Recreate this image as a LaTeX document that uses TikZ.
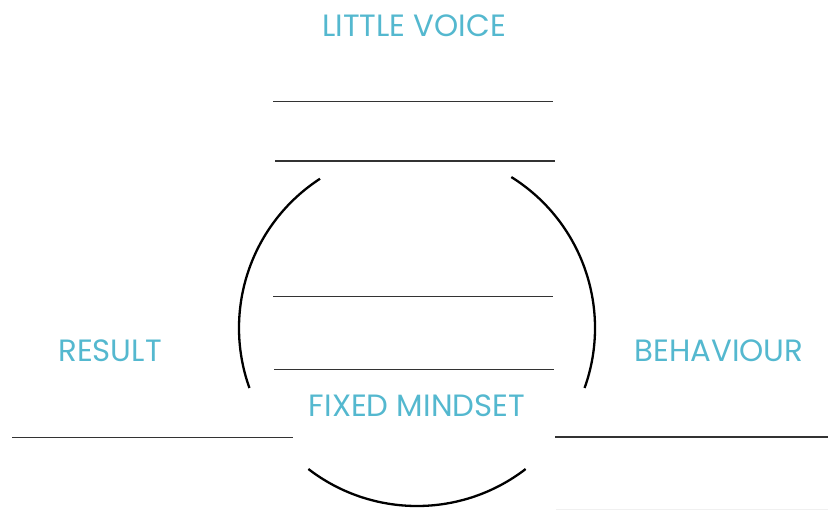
\documentclass[tikz,border=0pt]{standalone}
\usepackage{fontspec}
\setmainfont{Poppins}
\usepackage{tikz}
\usepackage{xcolor}
\definecolor{labelblue}{RGB}{84,184,207}
\tikzset{
  labeltext/.style={text=labelblue, font=\fontsize{15.4}{17}\selectfont, inner sep=0pt},
  blank/.style={draw=black!80, line width=0.7pt},
  ring/.style={draw=black, line width=1.15pt},
}
\begin{document}
\begin{tikzpicture}[x=0.5pt,y=0.5pt]
\useasboundingbox (0,0) rectangle (828,-510);
\coordinate (c) at (417,-328);
% the loop, cut in three arcs
\draw[ring] ([shift={(123:178)}]c) arc[start angle=123, end angle=199.7, radius=178];
\draw[ring] ([shift={(-19.7:178)}]c) arc[start angle=-19.7, end angle=58, radius=178];
\draw[ring] ([shift={(232.4:178)}]c) arc[start angle=232.4, end angle=307.6, radius=178];
% blanks to write on
\draw[blank] (273,-101.5) -- (553,-101.5);
\draw[blank] (275,-161) -- (555,-161);
\draw[blank] (273,-296.5) -- (553,-296.5);
\draw[blank] (274,-369.5) -- (554,-369.5);
\draw[blank] (12,-437.5) -- (293,-437.5);
\draw[blank] (555,-437) -- (828,-437);
\draw[gray!12] (556,-509.3) -- (828,-509.3);
% labels
\node[labeltext] (voice) at (414,-26) {LITTLE VOICE};
\node[labeltext] (result) at (110,-351) {RESULT};
\node[labeltext] (behaviour) at (719,-351) {BEHAVIOUR};
\node[labeltext] (fixed) at (417,-405.5) {FIXED MINDSET};
\end{tikzpicture}
\end{document}
